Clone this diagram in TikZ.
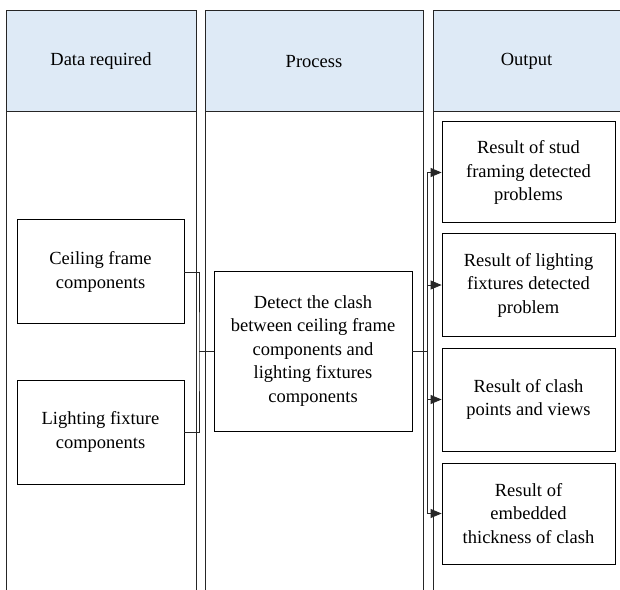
\documentclass[tikz,border=0pt]{standalone}
\usepackage{fontspec}
\setmainfont{Liberation Serif}
\usetikzlibrary{arrows.meta}
\definecolor{hdrblue}{HTML}{DEEAF6}
\begin{document}
\begin{tikzpicture}[x=1pt,y=-1pt,line width=0.8pt,
  lane/.style={draw=black!85},
  hdr/.style={draw=black!85,fill=hdrblue},
  txt/.style={font=\rmfamily\fontsize{18.5}{23.5}\selectfont,align=center,inner sep=0pt},
  conn/.style={draw=black!85},
  arr/.style={draw=black!85,-{Triangle[length=11pt,width=9pt]}}]
\useasboundingbox (0,0) rectangle (620,589);
\clip (0,0) rectangle (620,589);
\fill[white] (0,0) rectangle (620,589);
% lanes
\draw[lane] (6,10) rectangle (196,620);
\draw[lane] (205,10) rectangle (423,620);
\draw[lane] (433,10) rectangle (640,620);
\draw[hdr] (6,10) rectangle (196,111);
\draw[hdr] (205,10) rectangle (423,111);
\draw[hdr] (433,10) rectangle (640,111);
\node[txt] (h1) at (101,61.5) {Data required};
\node[txt] (h2) at (314,61.5) {Process};
\node[txt] (h3) at (526.5,61.5) {Output};
% boxes
\path (17,219) coordinate (ceilNW) (184,323) coordinate (ceilSE);
\draw (ceilNW) rectangle (ceilSE);
\node[txt,minimum width=167pt,minimum height=104pt] (ceil) at (100.5,272) {Ceiling frame\\components};
\path (17,380) coordinate (lightNW) (184,484) coordinate (lightSE);
\draw (lightNW) rectangle (lightSE);
\node[txt,minimum width=167pt,minimum height=104pt] (light) at (100.5,432) {Lighting fixture\\components};
\path (214,271) coordinate (procNW) (412,431) coordinate (procSE);
\draw (procNW) rectangle (procSE);
\node[txt,minimum width=198pt,minimum height=160pt] (proc) at (313,351) {Detect the clash\\between ceiling frame\\components and\\lighting fixtures\\components};
\path (442,121) coordinate (o1NW) (615,222) coordinate (o1SE);
\draw (o1NW) rectangle (o1SE);
\node[txt,minimum width=173pt,minimum height=101pt] (o1) at (528.5,172.5) {Result of stud\\framing detected\\problems};
\path (442,233) coordinate (o2NW) (615,336) coordinate (o2SE);
\draw (o2NW) rectangle (o2SE);
\node[txt,minimum width=173pt,minimum height=103pt] (o2) at (528.5,285) {Result of lighting\\fixtures detected\\problem};
\path (442,348) coordinate (o3NW) (615,451) coordinate (o3SE);
\draw (o3NW) rectangle (o3SE);
\node[txt,minimum width=173pt,minimum height=103pt] (o3) at (528.5,399.5) {Result of clash\\points and views};
\path (442,463) coordinate (o4NW) (615,564) coordinate (o4SE);
\draw (o4NW) rectangle (o4SE);
\node[txt,minimum width=173pt,minimum height=101pt] (o4) at (528.5,513.5) {Result of\\embedded\\thickness of clash};
% connectors
\coordinate (jl) at (199,351);
\coordinate (jr) at (427,351);
\draw[conn] (ceil.east) -| (jl) |- (light.east);
\draw[conn] (jl) -- (proc.west);
\draw[conn] (proc.east) -- (jr);
\draw[arr] (jr) |- (o1.west);
\draw[arr] (jr) |- (o2.west);
\draw[arr] (jr) |- (o3.west);
\draw[arr] (jr) |- (o4.west);
\end{tikzpicture}
\end{document}
